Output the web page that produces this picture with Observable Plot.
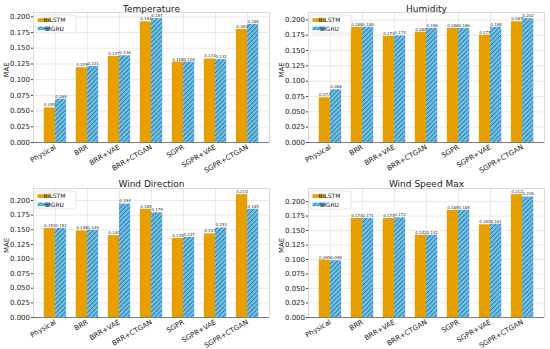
<!DOCTYPE html>
<html><head><meta charset="utf-8">
<script src="https://cdn.jsdelivr.net/npm/d3@7"></script>
<script src="https://cdn.jsdelivr.net/npm/@observablehq/plot@0.6"></script>
<style>
body{margin:0;background:#fff}
#wrap{position:relative;width:550px;height:349px;background:#fff;overflow:hidden}
.panel{position:absolute}
</style>
</head><body>
<svg width="0" height="0" style="position:absolute">
  <defs>
    <pattern id="hatch" patternUnits="userSpaceOnUse" width="4.5" height="4.5">
      <rect width="4.5" height="4.5" fill="#66C2EE"></rect>
      <path d="M-1,1 l2,-2 M0,4.5 l4.5,-4.5 M3.5,5.5 l2,-2" stroke="#222" stroke-width="0.6"></path>
    </pattern>
  </defs>
</svg>
<div id="wrap"></div>
<script>
const categories = ["Physical","BRR","BRR+VAE","BRR+CTGAN","SGPR","SGPR+VAE","SGPR+CTGAN"];
const series = ["BiLSTM","BiGRU"];
const titles = ["Temperature","Humidity","Wind Direction","Wind Speed Max"];
const yTicks = [0,0.025,0.05,0.075,0.1,0.125,0.15,0.175,0.2];

const temperatureBiLSTM = [0.055,0.119,0.137,0.192,0.128,0.133,0.180];
const temperatureBiGRU  = [0.069,0.121,0.138,0.197,0.128,0.132,0.188];
const humidityBiLSTM    = [0.073,0.188,0.173,0.180,0.186,0.175,0.197];
const humidityBiGRU     = [0.086,0.188,0.174,0.186,0.186,0.188,0.202];
const windDirBiLSTM     = [0.152,0.148,0.140,0.185,0.135,0.143,0.210];
const windDirBiGRU      = [0.152,0.149,0.194,0.179,0.137,0.153,0.185];
const windSpeedBiLSTM   = [0.099,0.171,0.171,0.142,0.185,0.160,0.212];
const windSpeedBiGRU    = [0.098,0.171,0.172,0.142,0.185,0.161,0.208];

const ORANGE = "#E69F00";
const BAR_W = 0.35;
const fmt3 = d3.format(".3f");

function panel(title, lstm, gru, left, top, height, mTop, mBottom) {
  const idx = categories.map((c, i) => i);
  const data = [];
  categories.forEach((c, i) => {
    data.push({cat: c, s: series[0], x1: i - BAR_W, x2: i, xc: i - BAR_W / 2, v: lstm[i]});
    data.push({cat: c, s: series[1], x1: i, x2: i + BAR_W, xc: i + BAR_W / 2, v: gru[i]});
  });
  const yMax = d3.max(data, d => d.v) * 1.05;
  const mLeft = 33, mRight = 6;
  const chart = Plot.plot({
    width: 275, height,
    marginLeft: mLeft, marginRight: mRight, marginTop: mTop, marginBottom: mBottom,
    style: {fontFamily: "DejaVu Sans, sans-serif", fontSize: "7px", color: "#222", background: "transparent", overflow: "visible"},
    x: {type: "linear", domain: [-0.685, 6.685], axis: null},
    y: {domain: [0, yMax], axis: null},
    marks: [
      Plot.gridY(yTicks, {stroke: "#dcdcdc", strokeOpacity: 1, strokeWidth: 0.6}),
      Plot.gridX(idx, {stroke: "#dcdcdc", strokeOpacity: 1, strokeWidth: 0.6}),
      Plot.frame({stroke: "#d0d0d0", strokeWidth: 0.8}),
      Plot.rectY(data.filter(d => d.s === series[0]), {x1: "x1", x2: "x2", y: "v", fill: ORANGE}),
      Plot.rectY(data.filter(d => d.s === series[1]), {x1: "x1", x2: "x2", y: "v", fill: "url(#hatch)"}),
      Plot.text(data, {x: "xc", y: "v", text: d => fmt3(d.v), dy: -2.8, fontSize: 4, fill: "#333"}),
      Plot.ruleY([0], {stroke: "#666", strokeWidth: 0.8}),
      Plot.axisY({ticks: yTicks, tickFormat: fmt3, tickSize: 2, tickPadding: 1.5, label: null, fontSize: 7, stroke: "#444"}),
      Plot.axisX({ticks: idx, tickFormat: i => categories[i], tickRotate: -30, tickSize: 0, tickPadding: 4, label: null, fontSize: 7}),
      Plot.text([title], {frameAnchor: "top", dy: -mTop + 5.5, fontSize: 9, fill: "#222"}),
      Plot.text(["MAE"], {frameAnchor: "left", dx: -27, rotate: -90, fontSize: 7, fill: "#222"})
    ]
  });
  chart.classList.add("panel");
  chart.style.left = left + "px";
  chart.style.top = top + "px";

  // legend (upper left, inside axes)
  const svg = d3.select(chart);
  const g = svg.append("g").attr("transform", `translate(${mLeft + 2},${mTop + 3})`);
  g.append("rect").attr("width", 41).attr("height", 18).attr("rx", 1.5)
    .attr("fill", "white").attr("fill-opacity", 0.85).attr("stroke", "#d6d6d6").attr("stroke-width", 0.6);
  const fills = [ORANGE, "url(#hatch)"];
  series.forEach((s, k) => {
    g.append("rect").attr("x", 2.5).attr("y", 3.3 + k * 8.3).attr("width", 13).attr("height", 3.6).attr("fill", fills[k]);
    g.append("text").attr("x", 19.5).attr("y", 5.2 + k * 8.3).attr("dy", "0.35em")
      .attr("font-size", 6).attr("fill", "#222").attr("font-family", "DejaVu Sans, sans-serif").text(s);
  });
  document.getElementById("wrap").appendChild(chart);
}

panel(titles[0], temperatureBiLSTM, temperatureBiGRU, 0, 0, 175, 12, 33);
panel(titles[1], humidityBiLSTM, humidityBiGRU, 275, 0, 175, 12, 33);
panel(titles[2], windDirBiLSTM, windDirBiGRU, 0, 175, 174, 13, 32);
panel(titles[3], windSpeedBiLSTM, windSpeedBiGRU, 275, 175, 174, 13, 32);
</script>
</body></html>
